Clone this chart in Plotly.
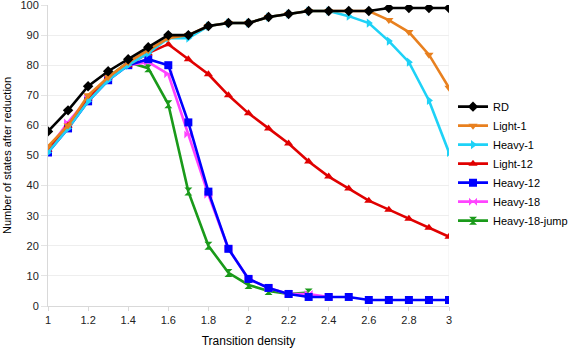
"""Reduced state counts against transition density."""

import plotly.graph_objects as go

density = [1.0, 1.1, 1.2, 1.3, 1.4, 1.5, 1.6, 1.7, 1.8, 1.9, 2.0,
           2.1, 2.2, 2.3, 2.4, 2.5, 2.6, 2.7, 2.8, 2.9, 3.0]

rd = [58, 65, 73, 78, 82, 86, 90, 90, 93, 94, 94,
      96, 97, 98, 98, 98, 98, 99, 99, 99, 99]
light_1 = [53, 60, 70, 76, 81, 85, 89, 90, 93, 94, 94,
           96, 97, 98, 98, 98, 98, 95, 91, 83.5, 72.5]
heavy_1 = [51, 59, 68, 75, 80, 84, 89, 89, 93, 94, 94,
           96, 97, 98, 98, 96.3, 94, 88, 81, 68.3, 51]
light_12 = [52, 60, 69, 76, 80, 84, 87, 82, 77, 70, 64,
            59, 54, 48, 43, 39, 35, 32, 29, 26, 23]
heavy_12 = [51, 59, 68, 75, 80, 82, 80, 61, 38, 19, 9,
            6, 4, 3, 3, 3, 2, 2, 2, 2, 2]
heavy_18 = [52, 61, 69, 76, 80, 81, 77, 57, 37, 19, 9,
            6, 4, 4, 3]
heavy_18_jump = [52, 60, 69, 76, 81, 79, 67, 38, 20, 11, 7,
                 5, 4, 4.5]

SERIES = [
    ("RD", rd, "#000000", "diamond"),
    ("Light-1", light_1, "#e8801f", "triangle-down"),
    ("Heavy-1", heavy_1, "#1ed2f7", "triangle-right"),
    ("Light-12", light_12, "#e00000", "triangle-up"),
    ("Heavy-12", heavy_12, "#0000ff", "square"),
    ("Heavy-18", heavy_18, "#ff44ff", "bowtie"),
    ("Heavy-18-jump", heavy_18_jump, "#1a9a1a", "hourglass"),
]

FONT = "Liberation Sans, Arial, sans-serif"

fig = go.Figure()

# draw back to front so RD ends up on top, legend reversed to keep order
for name, ys, color, symbol in reversed(SERIES):
    fig.add_trace(
        go.Scatter(
            x=density[:len(ys)], y=ys,
            mode="lines+markers",
            name=name,
            line=dict(color=color, width=2.6),
            marker=dict(symbol=symbol, size=8, color=color,
                        line=dict(width=0)),
        )
    )

fig.update_layout(
    width=568, height=348,
    margin=dict(l=48, r=119, t=5, b=42, autoexpand=False),
    paper_bgcolor="white",
    plot_bgcolor="white",
    font=dict(family=FONT, size=11, color="#222222"),
    legend=dict(
        traceorder="reversed",
        x=1.01, xanchor="left",
        y=0.473, yanchor="middle",
        font=dict(size=11, color="#000000"),
        bgcolor="rgba(0,0,0,0)",
        itemwidth=30,
        tracegroupgap=0,
    ),
)

fig.update_xaxes(
    range=[1, 3],
    tick0=1, dtick=0.2,
    tickformat="~g",
    showgrid=False,
    showline=True, linecolor="#d9d9d9", linewidth=1,
    ticks="outside", ticklen=4, tickcolor="#d9d9d9",
    zeroline=False,
    automargin=False,
    title=dict(text="Transition density", font=dict(size=12, color="#000000"),
               standoff=11),
)
fig.update_yaxes(
    range=[0, 100],
    tick0=0, dtick=10,
    showgrid=True, gridcolor="#eeeeee", gridwidth=1,
    showline=True, linecolor="#d9d9d9", linewidth=1,
    ticks="outside", ticklen=6, tickcolor="#e4e4e4",
    ticklabeloverflow="allow",
    zeroline=False,
    automargin=False,
    title=dict(text="Number of states after reduction",
               font=dict(size=11, color="#000000"), standoff=6),
)

# light frame edge on the right like the reference
fig.add_shape(type="line", xref="x", yref="paper", x0=3, x1=3, y0=0, y1=1,
              line=dict(color="#eeeeee", width=1), layer="below")

# the page body has a default 8px margin; drop it so the chart sits at 0,0
fig.write_html("out.html", config={"displayModeBar": False},
               post_script="document.body.style.margin='0';")
